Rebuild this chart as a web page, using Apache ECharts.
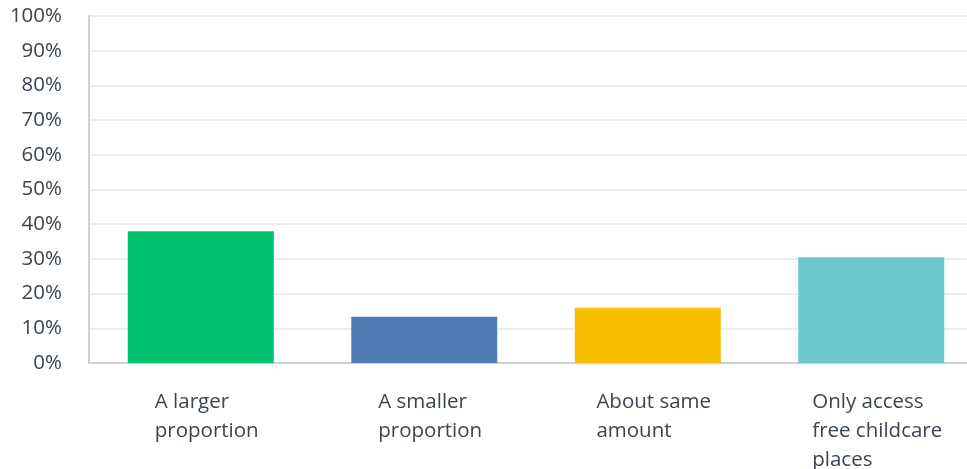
<!DOCTYPE html>
<html><head><meta charset="utf-8">
<script src="https://cdn.jsdelivr.net/npm/echarts@6/dist/echarts.min.js"></script>
<style>html,body{margin:0;padding:0;background:#fff}#c{width:967px;height:469px}</style>
</head><body><div id="c"></div>
<script>
const categories = ['A larger\nproportion', 'A smaller\nproportion', 'About same\namount', 'Only access\nfree childcare\nplaces'];
const values = [38.0, 13.3, 15.9, 30.5];
const barColors = ['#00bf6f', '#507cb6', '#f9be00', '#6bc8cd'];
const yTicks = [0, 10, 20, 30, 40, 50, 60, 70, 80, 90, 100];

const chart = echarts.init(document.getElementById('c'), null, {renderer: 'canvas'});
const textColor = '#3b4550';
const font = 'Open Sans';
const fs = 20.5;
chart.setOption({
  animation: false,
  grid: {left: 89, top: 16, width: 894, height: 347, containLabel: false, outerBoundsMode: 'none'},
  xAxis: {
    type: 'category',
    data: categories,
    axisLine: {show: true, lineStyle: {color: '#d0d0d0', width: 2}},
    axisTick: {show: false},
    axisLabel: {
      interval: 0,
      margin: 25,
      color: textColor,
      fontFamily: font,
      fontSize: fs,
      lineHeight: 29,
      padding: [0, 0, 0, 12],
      formatter: function (v) { return v.split('\n').map(s => '{t|' + s + '}').join('\n'); },
      rich: {t: {align: 'left', color: textColor, fontFamily: font, fontSize: fs, lineHeight: 29}}
    }
  },
  yAxis: {
    type: 'value',
    min: yTicks[0], max: yTicks[yTicks.length - 1], interval: 10,
    axisLine: {show: true, lineStyle: {color: '#d0d0d0', width: 2}},
    axisTick: {show: false},
    splitLine: {lineStyle: {color: '#ececec', width: 2}},
    axisLabel: {margin: 27, color: textColor, fontFamily: font, fontSize: fs, padding: [5, 0, 0, 0], formatter: '{value}%'}
  },
  series: [{
    type: 'bar',
    barWidth: 146,
    data: values.map((v, i) => ({value: v, itemStyle: {color: barColors[i]}}))
  }]
});
</script></body></html>
